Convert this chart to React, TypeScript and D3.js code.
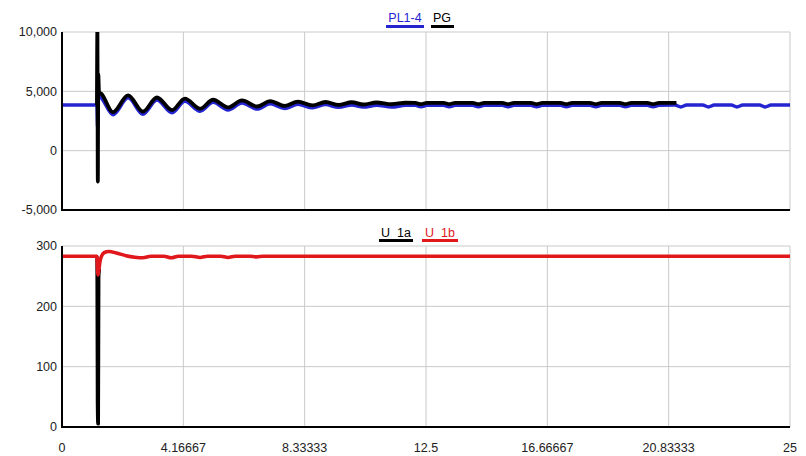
import React from "react";
import * as d3 from "d3";

// ---- data ----
const xTicks = [0, 4.16667, 8.33333, 12.5, 16.66667, 20.83333, 25];
const xTickLabels = ["0", "4.16667", "8.33333", "12.5", "16.66667", "20.83333", "25"];
const topYTicks = [-5000, 0, 5000, 10000];
const topYTickLabels = ["-5,000", "0", "5,000", "10,000"];
const botYTicks = [0, 100, 200, 300];
const botYTickLabels = ["0", "100", "200", "300"];

// PL1-4 (blue) [time, value]
const pl14: [number, number][] = [
  [0, 3850], [1.2, 3850], [1.225, 1900], [1.25, 4650], [1.35, 4450],
  [1.75, 3030], [2.27, 4450], [2.78, 3070], [3.26, 4270], [3.78, 3200],
  [4.22, 4170], [4.74, 3330], [5.19, 4070], [5.7, 3430], [6.18, 4010],
  [6.7, 3510], [7.15, 3950], [7.65, 3560], [8.1, 3910], [8.6, 3610],
  [9.05, 3880], [9.5, 3650], [9.95, 3850], [10.35, 3670], [10.8, 3830],
  [11.32, 3680], [11.8, 3820],
  [12.13, 3820], [12.33, 3700], [12.53, 3820],
  [13.1, 3820], [13.3, 3700], [13.5, 3820],
  [14.1, 3820], [14.3, 3700], [14.5, 3820],
  [15.12, 3820], [15.32, 3700], [15.52, 3820],
  [16.1, 3820], [16.3, 3700], [16.5, 3820],
  [17.12, 3820], [17.32, 3700], [17.52, 3820],
  [18.13, 3820], [18.33, 3700], [18.53, 3820],
  [19.15, 3820], [19.35, 3700], [19.55, 3820],
  [20.1, 3820], [20.3, 3700], [20.5, 3820],
  [21.05, 3840], [21.25, 3690], [21.45, 3840],
  [22.0, 3840], [22.2, 3690], [22.4, 3840],
  [22.98, 3840], [23.18, 3690], [23.38, 3840],
  [23.95, 3840], [24.15, 3690], [24.35, 3840],
  [25, 3840],
];

// PG (black) [time, value]
const pg: [number, number][] = [
  [1.2, 3850], [1.215, 10300], [1.23, -2600], [1.245, 6500],
  [1.27, 4950], [1.35, 4800], [1.75, 3250], [2.27, 4660], [2.78, 3290],
  [3.26, 4480], [3.78, 3420], [4.22, 4380], [4.74, 3540], [5.19, 4290],
  [5.7, 3640], [6.18, 4230], [6.7, 3720], [7.15, 4170], [7.65, 3770],
  [8.1, 4130], [8.6, 3820], [9.05, 4100], [9.5, 3860], [9.95, 4080],
  [10.35, 3890], [10.8, 4060], [11.32, 3910], [11.8, 4040],
  [12.13, 4020], [12.33, 3920], [12.53, 4020],
  [13.1, 4020], [13.3, 3920], [13.5, 4020],
  [14.1, 4020], [14.3, 3920], [14.5, 4020],
  [15.12, 4020], [15.32, 3920], [15.52, 4020],
  [16.1, 4020], [16.3, 3920], [16.5, 4020],
  [17.12, 4020], [17.32, 3920], [17.52, 4020],
  [18.13, 4020], [18.33, 3920], [18.53, 4020],
  [19.15, 4020], [19.35, 3920], [19.55, 4020],
  [20.1, 4020], [20.3, 3920], [20.5, 4020],
  [21.1, 4020],
];

// U_1a (black) – only visible during the fault; elsewhere hidden under U_1b
const u1a: [number, number][] = [
  [1.2, 283], [1.215, 40], [1.23, 5], [1.25, 5], [1.265, 250], [1.29, 262],
];

// U_1b (red)
const u1b: [number, number][] = [
  [0, 283], [1.2, 283], [1.22, 262], [1.24, 252], [1.27, 262], [1.32, 278],
  [1.45, 289], [1.6, 291], [1.9, 288], [2.2, 284], [2.5, 281.5], [2.78, 280.5],
  [3.05, 283], [3.5, 283], [3.75, 280.5], [4.0, 283], [4.45, 283], [4.74, 281],
  [5.0, 283], [5.45, 283], [5.7, 281], [5.95, 283], [6.45, 283], [6.68, 282],
  [6.9, 283], [25, 283],
];

const BLUE = "#2424d0";
const RED = "#e0181c";
const GRID = "#c9c9c9";
const FONT = "'Liberation Sans', Arial, sans-serif";

export default function App() {
  const W = 806, H = 456;
  const x = d3.scaleLinear().domain([0, 25]).range([62, 790]);
  const yTop = d3.scaleLinear().domain([-5000, 10000]).range([210, 32]);
  const yBot = d3.scaleLinear().domain([0, 300]).range([427, 246]);

  const lineTop = d3.line<[number, number]>().x(d => x(d[0])).y(d => yTop(d[1])).curve(d3.curveMonotoneX);
  const lineBot = d3.line<[number, number]>().x(d => x(d[0])).y(d => yBot(d[1])).curve(d3.curveMonotoneX);

  const panel = (
    y: d3.ScaleLinear<number, number>,
    yTicks: number[],
    yLabels: string[],
    clipId: string
  ) => {
    const [y0, y1] = y.range();
    return (
      <g>
        <defs>
          <clipPath id={clipId}>
            <rect x={x(0)} y={y1} width={x(25) - x(0)} height={y0 - y1} />
          </clipPath>
        </defs>
        {xTicks.map((t, i) => (
          <line key={"vx" + i} x1={x(t)} x2={x(t)} y1={y1} y2={y0} stroke={GRID} strokeWidth={1} />
        ))}
        {yTicks.map((t, i) => (
          <line key={"hy" + i} x1={x(0)} x2={x(25)} y1={y(t)} y2={y(t)} stroke={GRID} strokeWidth={1} />
        ))}
        {yTicks.map((t, i) => (
          <text key={"ly" + i} x={57} y={y(t)} dy="0.35em" textAnchor="end" fontSize={12.5} fontFamily={FONT} fill="#222">
            {yLabels[i]}
          </text>
        ))}
      </g>
    );
  };

  return (
    <div style={{ position: "fixed", left: 0, top: 0, width: W, height: H, background: "#fff" }}>
      <svg width={W} height={H} style={{ display: "block" }}>
        <rect width={W} height={H} fill="#fff" />
        {panel(yTop, topYTicks, topYTickLabels, "clipTop")}
        {panel(yBot, botYTicks, botYTickLabels, "clipBot")}

        {/* top series */}
        <g clipPath="url(#clipTop)">
          <path d={lineTop(pl14) || ""} fill="none" stroke={BLUE} strokeWidth={3.5} strokeLinejoin="round" />
          <path d={lineTop(pg) || ""} fill="none" stroke="#000" strokeWidth={3.8} strokeLinejoin="round" />
        </g>
        {/* bottom series */}
        <g clipPath="url(#clipBot)">
          <path d={lineBot(u1a) || ""} fill="none" stroke="#000" strokeWidth={3.2} strokeLinejoin="round" />
          <path d={lineBot(u1b) || ""} fill="none" stroke={RED} strokeWidth={3.6} strokeLinejoin="round" />
        </g>

        {/* axes lines */}
        <line x1={x(0)} x2={x(0)} y1={yTop(10000)} y2={yTop(-5000) + 1} stroke="#000" strokeWidth={2} />
        <line x1={x(0)} x2={x(25)} y1={yTop(-5000)} y2={yTop(-5000)} stroke="#000" strokeWidth={2} />
        <line x1={x(0)} x2={x(0)} y1={yBot(300)} y2={yBot(0) + 1} stroke="#000" strokeWidth={2} />
        <line x1={x(0)} x2={x(25)} y1={yBot(0)} y2={yBot(0)} stroke="#000" strokeWidth={2} />

        {/* x tick labels */}
        {xTicks.map((t, i) => (
          <text key={"lx" + i} x={x(t)} y={448} dy="0.35em" textAnchor="middle" fontSize={12.5} fontFamily={FONT} fill="#222">
            {xTickLabels[i]}
          </text>
        ))}

        {/* legends */}
        <g fontFamily={FONT} fontSize={12.5}>
          <text x={405} y={22} textAnchor="middle" fill={BLUE}>PL1-4</text>
          <rect x={386} y={25} width={38} height={3} fill={BLUE} />
          <text x={442} y={22} textAnchor="middle" fill="#000">PG</text>
          <rect x={431} y={25} width={23} height={3} fill="#000" />

          <text x={396} y={237} textAnchor="middle" fill="#000">U_1a</text>
          <rect x={379} y={239} width={34} height={3} fill="#000" />
          <text x={440} y={237} textAnchor="middle" fill={RED}>U_1b</text>
          <rect x={422} y={239} width={36} height={3} fill={RED} />
        </g>
      </svg>
    </div>
  );
}
